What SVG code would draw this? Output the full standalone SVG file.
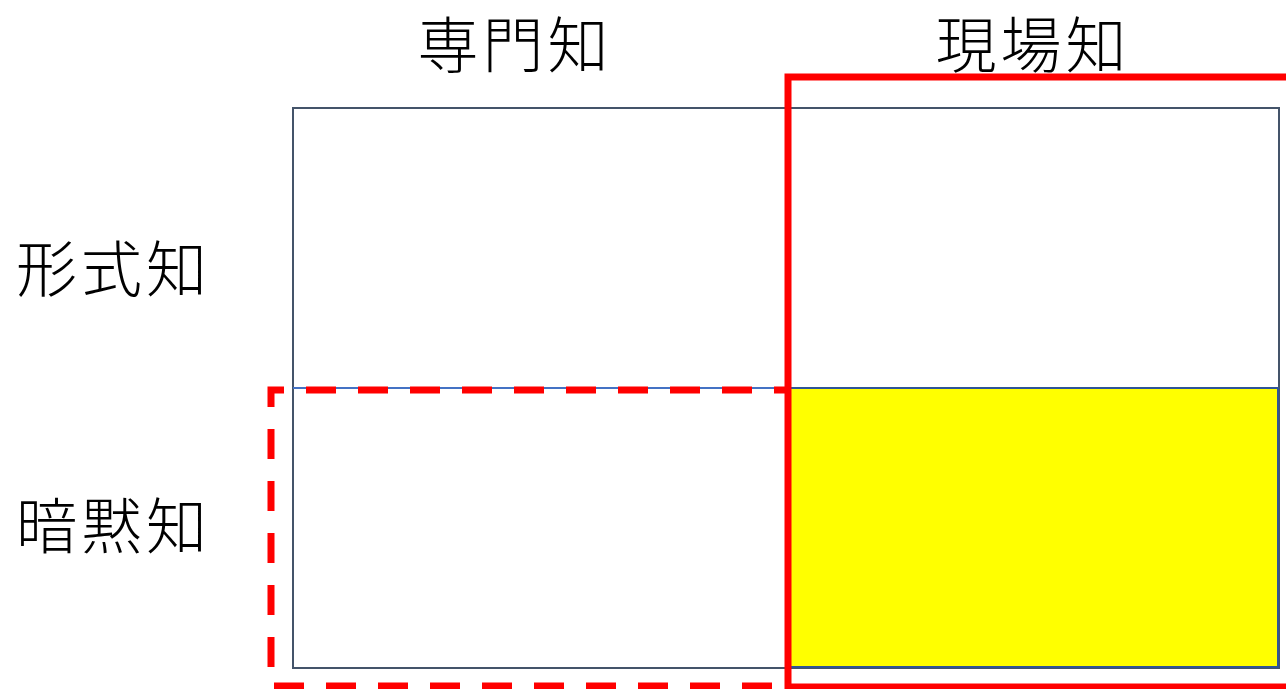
<svg xmlns="http://www.w3.org/2000/svg" width="1286" height="689" viewBox="0 0 1286 689">
<style>
.lbl{font-family:"Noto Sans CJK JP","Noto Sans CJK SC",sans-serif;font-size:61px;font-weight:300;letter-spacing:4px;fill:#000}
.cell{fill:#fff;stroke:#44546A;stroke-width:2}
</style>
<rect width="1286" height="689" fill="#fff"/>
<g id="grid">
<rect class="cell" x="293" y="108" width="986" height="560"/>
<line x1="786" y1="108" x2="786" y2="668" stroke="#44546A" stroke-width="2"/>
<line x1="293" y1="388" x2="1279" y2="388" stroke="#4472C4" stroke-width="2"/>
</g>
<g id="yellow-cell">
<rect x="788" y="388" width="490" height="279" fill="#FFFF00" stroke="#2F5597" stroke-width="2"/>
</g>
<g id="labels">
<text class="lbl" x="515" y="68" text-anchor="middle">専門知</text>
<text class="lbl" x="1033" y="68" text-anchor="middle">現場知</text>
<text class="lbl" x="16" y="292">形式知</text>
<text class="lbl" x="16" y="549">暗黙知</text>
</g>
<g id="highlights">
<rect x="788" y="77" width="510" height="610" fill="none" stroke="#FF0000" stroke-width="7"/>
<path d="M788 390 H271 V686 H788" fill="none" stroke="#FF0000" stroke-width="7" stroke-dasharray="30 22" stroke-dashoffset="-36"/>
</g>
</svg>
